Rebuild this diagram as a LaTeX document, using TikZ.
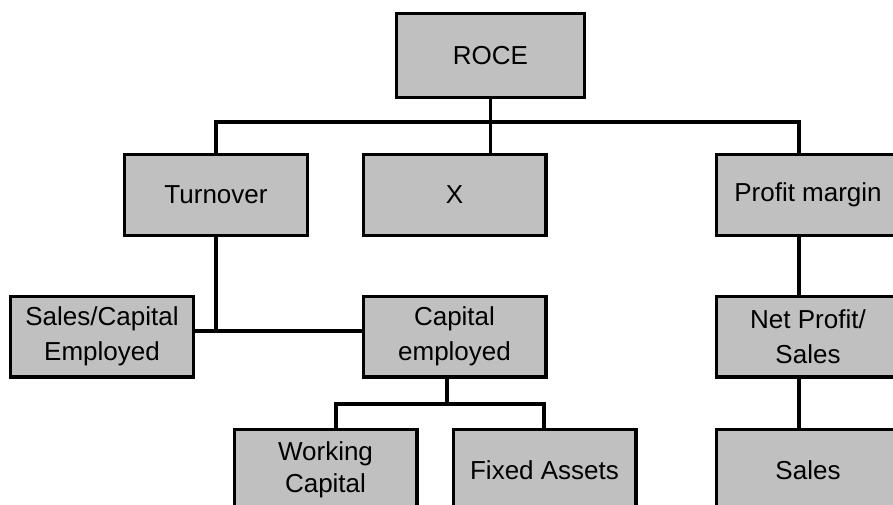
\documentclass[tikz,border=0pt]{standalone}
\usepackage{fontspec}
\setmainfont{Liberation Sans}
\definecolor{boxgray}{RGB}{192,192,192}
\tikzset{
  box/.style={draw=black, fill=boxgray, line width=3.2pt, minimum width=182.8pt,
    minimum height=80.8pt, align=center, inner sep=0pt,
    font=\fontsize{26}{35}\selectfont},
  conn/.style={line width=3.2pt, line cap=rect, line join=miter}
}
\begin{document}
\begin{tikzpicture}[x=1pt,y=-1pt]
\useasboundingbox (0,0) rectangle (893,504);
\clip (0,0) rectangle (893,504);
% nodes
\node[box, minimum width=187.8pt, minimum height=83.8pt] (roce) at (490.5,55.5) {ROCE};
\node[box] (turn) at (216,195) {Turnover};
\node[box] (x) at (454.5,195) {X};
\node[box] (pm) at (808,195) {Profit margin};
\node[box] (sce) at (102,336.5) {Sales/Capital\\Employed};
\node[box] (ce) at (454.5,336.5) {Capital\\employed};
\node[box] (nps) at (808,336.5) {Net Profit/\\Sales};
\node[box, font=\fontsize{26}{32}\selectfont] (wc) at (325.5,470) {Working\\Capital};
\node[box] (fa) at (544.5,470) {Fixed Assets};
\node[box] (sal) at (808,470) {Sales};
% junction coordinates
\coordinate (busL) at (216,122);
\coordinate (busR) at (799,122);
\coordinate (tj) at (216,331);
\coordinate (ceJ) at (447,404);
\coordinate (wcJ) at (336,404);
\coordinate (faJ) at (544,404);
\coordinate (pmx) at (799,0);
% connectors
\draw[conn] (roce.south) -- (roce.south |- x.north);
\draw[conn] (turn.north) -- (busL) -- (busR) -- (busR |- pm.north);
\draw[conn] (turn.south) -- (tj);
\draw[conn] (sce.east |- tj) -- (ce.west |- tj);
\draw[conn] (ceJ |- ce.south) -- (ceJ);
\draw[conn] (wcJ |- wc.north) -- (wcJ) -- (faJ) -- (faJ |- fa.north);
\draw[conn] (pmx |- pm.south) -- (pmx |- nps.north);
\draw[conn] (pmx |- nps.south) -- (pmx |- sal.north);
\end{tikzpicture}
\end{document}
